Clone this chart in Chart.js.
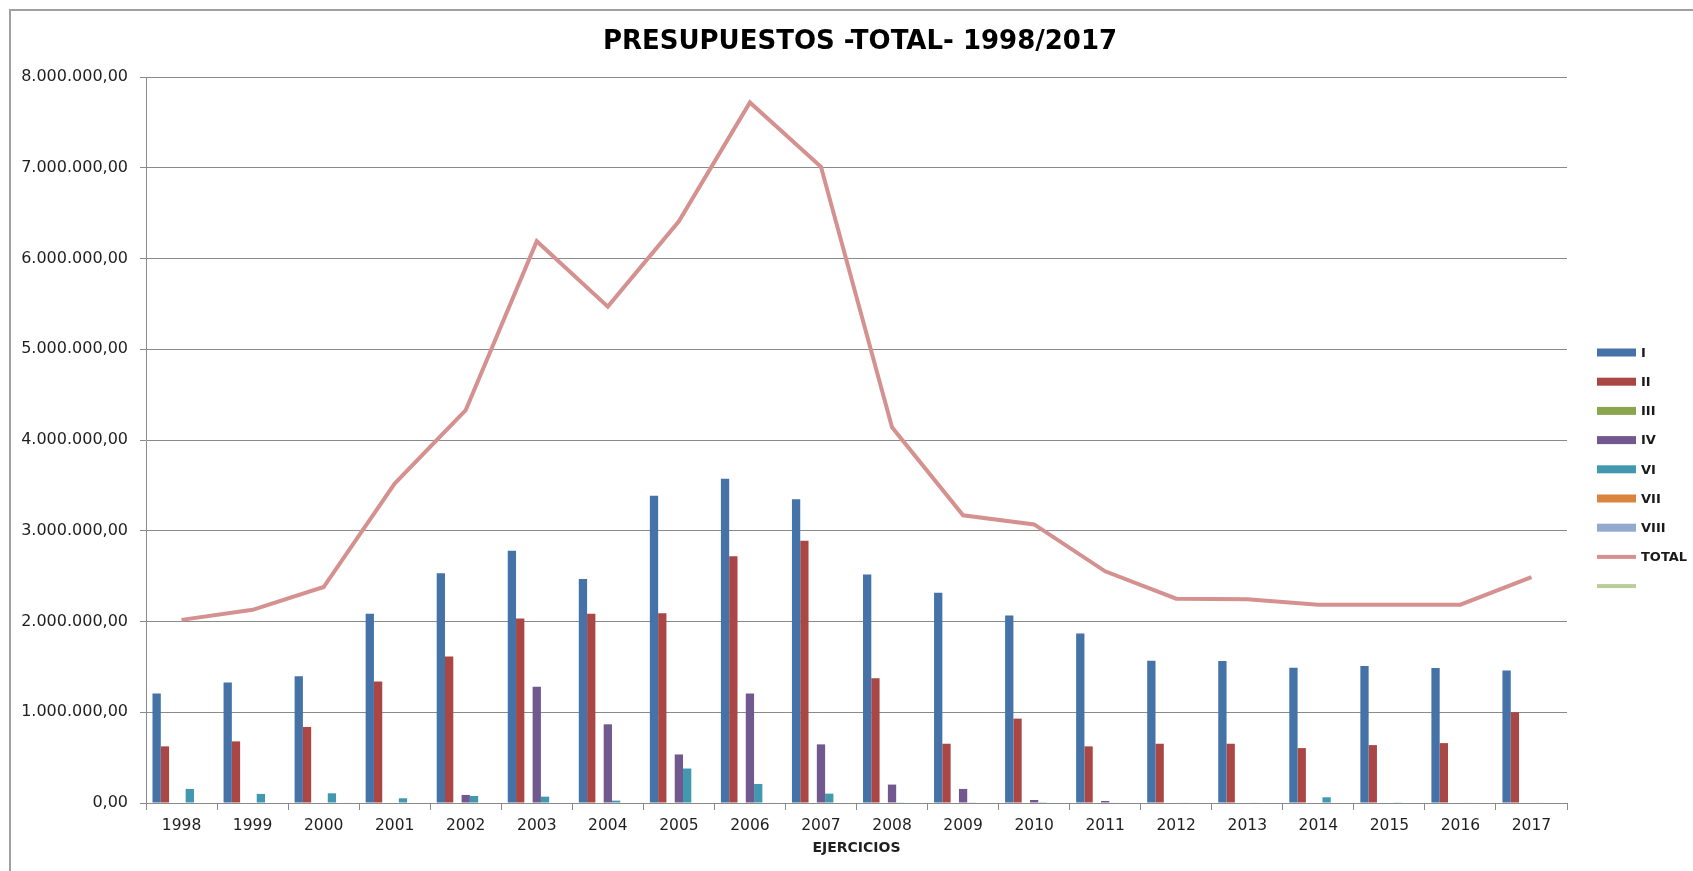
<!DOCTYPE html>
<html>
<head>
<meta charset="utf-8">
<title>Presupuestos -Total- 1998/2017</title>
<script src="https://cdn.jsdelivr.net/npm/chart.js@4/dist/chart.umd.min.js"></script>
<style>
    html, body { margin: 0; padding: 0; background: #fff; }
    #wrap { position: relative; width: 1693px; height: 871px; }
</style>
</head>
<body>
<div id="wrap"><canvas id="chart" width="1693" height="871"></canvas></div>
<script>
// ── Data ──
const years = ["1998", "1999", "2000", "2001", "2002", "2003", "2004", "2005", "2006", "2007",
               "2008", "2009", "2010", "2011", "2012", "2013", "2014", "2015", "2016", "2017"];

const capI    = [1207000, 1328000, 1398000, 2085000, 2531000, 2779000, 2469000, 3387000, 3572000, 3347000,
                 2517000, 2317000, 2066000, 1867000, 1568000, 1565000, 1491000, 1509000, 1487000, 1461000];
const capII   = [624000, 679000, 838000, 1339000, 1613000, 2033000, 2085000, 2092000, 2720000, 2889000,
                 1376000, 653000, 930000, 624000, 653000, 653000, 605000, 638000, 660000, 1000000];
const capIII  = [0, 0, 0, 0, 0, 0, 0, 0, 0, 0, 0, 0, 0, 0, 0, 0, 0, 0, 0, 0];
const capIV   = [0, 0, 0, 0, 89000, 1280000, 867000, 535000, 1207000, 646000,
                 203000, 155000, 33000, 22000, 0, 0, 0, 0, 0, 0];
const capVI   = [155000, 100000, 107000, 52000, 77000, 70000, 26000, 380000, 210000, 103000,
                 7000, 7000, 8000, 5000, 5000, 5000, 63000, 7000, 5000, 5000];
const capVII  = [0, 0, 0, 0, 0, 0, 0, 0, 0, 0, 0, 0, 0, 0, 0, 0, 0, 0, 0, 0];
const capVIII = [0, 0, 5000, 0, 0, 0, 0, 0, 5000, 0, 0, 0, 0, 0, 0, 0, 0, 0, 0, 0];
const total   = [2018000, 2129000, 2380000, 3520000, 4330000, 6190000, 5470000, 6410000, 7720000, 7010000,
                 4140000, 3170000, 3070000, 2553000, 2251000, 2244000, 2185000, 2185000, 2185000, 2490000];

const yTicksMax = 8000000;
const yTickStep = 1000000;

// ── Helpers ──
function fmtEs(v) {
    return String(Math.round(v)).replace(/\B(?=(\d{3})+(?!\d))/g, ".") + ",00";
}

function barSet(label, data, color) {
    return {
        type: "bar",
        label: label,
        data: data,
        backgroundColor: color,
        borderWidth: 0,
        categoryPercentage: 0.817,
        barPercentage: 1.0,
        order: 2
    };
}

// ── Custom frame, title and legend ──
const decorPlugin = {
    id: "decor",
    beforeDraw: function (chart) {
        var ctx = chart.ctx;
        ctx.save();
        ctx.strokeStyle = "#a0a0a0";
        ctx.lineWidth = 2;
        ctx.beginPath();
        ctx.moveTo(10, 871);
        ctx.lineTo(10, 10);
        ctx.lineTo(1693, 10);
        ctx.stroke();
        ctx.restore();
    },
    afterDraw: function (chart) {
        var ctx = chart.ctx;
        ctx.save();
        // Title
        ctx.fillStyle = "#000";
        ctx.font = "bold 26px 'DejaVu Sans', sans-serif";
        ctx.textAlign = "center";
        ctx.textBaseline = "middle";
        ctx.fillText("PRESUPUESTOS -TOTAL- 1998/2017", 860, 42);

        // Legend
        ctx.textAlign = "left";
        ctx.font = "bold 13px 'DejaVu Sans', sans-serif";
        chart.data.datasets.forEach(function (ds, i) {
            var y = 352.5 + i * 29.2;
            ctx.fillStyle = ds.type === "line" ? ds.borderColor : ds.backgroundColor;
            if (ds.type === "line") ctx.fillRect(1597, y - 2, 39, 4);
            else ctx.fillRect(1597, y - 4, 39, 8);
            ctx.fillStyle = "#1a1a1a";
            ctx.fillText(ds.label, 1641, y + 1);
        });
        ctx.restore();
    }
};

Chart.defaults.font.family = "'DejaVu Sans', Verdana, sans-serif";
Chart.defaults.color = "#1f1f1f";

new Chart(document.getElementById("chart"), {
    data: {
        labels: years,
        datasets: [
            barSet("I", capI, "#4572A7"),
            barSet("II", capII, "#AA4643"),
            barSet("III", capIII, "#89A54E"),
            barSet("IV", capIV, "#71588F"),
            barSet("VI", capVI, "#4198AF"),
            barSet("VII", capVII, "#DB843D"),
            barSet("VIII", capVIII, "#93A9CF"),
            {
                type: "line",
                label: "TOTAL",
                data: total,
                borderColor: "#D4918F",
                backgroundColor: "#D4918F",
                borderWidth: 4,
                pointRadius: 0,
                tension: 0,
                order: 1
            },
            {
                type: "line",
                label: "",
                data: years.map(function () { return null; }),
                borderColor: "#B9CD96",
                backgroundColor: "#B9CD96",
                borderWidth: 4,
                pointRadius: 0,
                order: 1
            }
        ]
    },
    options: {
        responsive: false,
        animation: false,
        layout: { padding: { top: 77, right: 126, left: 0, bottom: 0 } },
        scales: {
            x: {
                type: "category",
                offset: true,
                grid: {
                    offset: true,
                    drawOnChartArea: false,
                    drawTicks: true,
                    tickLength: 7,
                    color: "#8a8a8a"
                },
                border: { display: true, color: "#8a8a8a" },
                ticks: { font: { size: 15.5 }, padding: 7, maxRotation: 0, autoSkip: false },
                title: {
                    display: true,
                    text: "EJERCICIOS",
                    font: { size: 14, weight: "bold" },
                    padding: { top: 0, bottom: 14 }
                },
                afterFit: function (scale) { scale.height = 68; }
            },
            y: {
                min: 0,
                max: yTicksMax,
                ticks: {
                    stepSize: yTickStep,
                    padding: 12,
                    font: { size: 16 },
                    callback: function (v) { return fmtEs(v); }
                },
                grid: { color: "#8a8a8a", tickLength: 6 },
                border: { display: true, color: "#8a8a8a" },
                afterFit: function (scale) { scale.width = 146; }
            }
        },
        plugins: {
            legend: { display: false },
            title: { display: false },
            tooltip: { enabled: false }
        }
    },
    plugins: [decorPlugin]
});
</script>
</body>
</html>
